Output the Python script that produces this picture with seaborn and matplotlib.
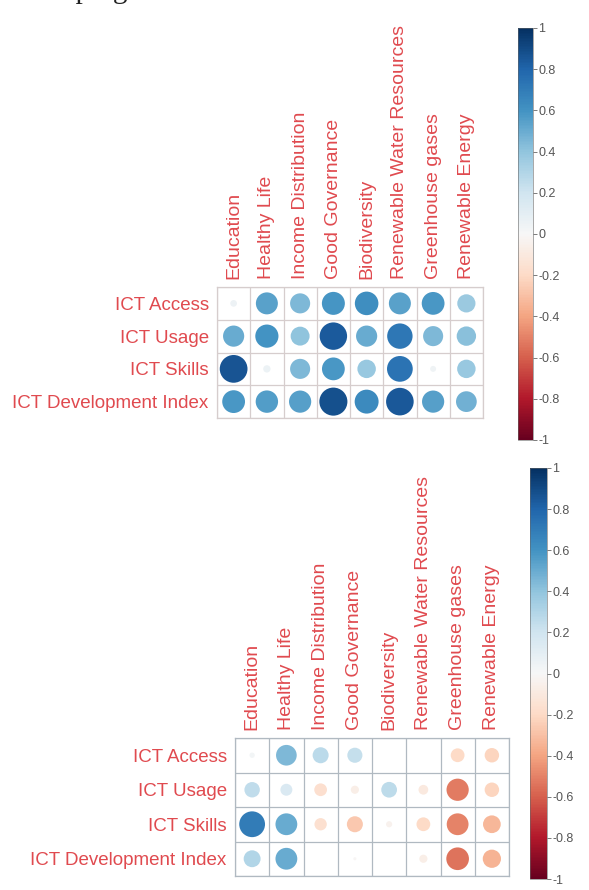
import numpy as np
import pandas as pd
import matplotlib

matplotlib.use("Agg")
import matplotlib.pyplot as plt
from matplotlib.colors import Normalize
from matplotlib.cm import ScalarMappable
import seaborn as sns

sns.set_theme(style="white")
plt.rcParams["font.family"] = ["Liberation Sans", "DejaVu Sans"]

rows = ["ICT Access", "ICT Usage", "ICT Skills", "ICT Development Index"]
cols = [
    "Education",
    "Healthy Life",
    "Income Distribution",
    "Good Governance",
    "Biodiversity",
    "Renewable Water Resources",
    "Greenhouse gases",
    "Renewable Energy",
]

# upper panel
top_access = [0.05, 0.54, 0.45, 0.59, 0.62, 0.54, 0.58, 0.37]
top_usage = [0.50, 0.60, 0.40, 0.84, 0.50, 0.72, 0.45, 0.42]
top_skills = [0.86, 0.06, 0.45, 0.58, 0.38, 0.74, 0.04, 0.38]
top_idi = [0.58, 0.56, 0.55, 0.88, 0.64, 0.85, 0.55, 0.48]

# lower panel
bot_access = [0.03, 0.45, 0.27, 0.24, 0.0, 0.0, -0.20, -0.22]
bot_usage = [0.25, 0.15, -0.17, -0.07, 0.26, -0.10, -0.52, -0.22]
bot_skills = [0.70, 0.50, -0.16, -0.27, -0.04, -0.20, -0.50, -0.33]
bot_idi = [0.30, 0.50, 0.0, -0.01, 0.0, -0.07, -0.54, -0.35]

red = "#e04a4f"
cbar_ticks = [1, 0.8, 0.6, 0.4, 0.2, 0, -0.2, -0.4, -0.6, -0.8, -1]
cbar_labels = ["1", "0.8", "0.6", "0.4", "0.2", "0", "-0.2", "-0.4", "-0.6", "-0.8", "-1"]

fig = plt.figure(figsize=(5.89, 8.90), dpi=100)


def corr_panel(ax, values, grid_color):
    df = pd.DataFrame(values, index=rows, columns=cols)
    df = df.reset_index().melt(id_vars="index", var_name="col", value_name="r")
    df = df.rename(columns={"index": "row"})
    df["size"] = df["r"].abs()
    cell_pt = ax.get_position().width * fig.get_figwidth() * 72 / len(cols)
    smax = (0.9 * cell_pt) ** 2
    sns.scatterplot(
        data=df, x="col", y="row", hue="r", size="size",
        palette="RdBu", hue_norm=(-1, 1), sizes=(0, smax), size_norm=(0, 1),
        linewidth=0, legend=False, ax=ax, zorder=3,
    )
    ax.set_xlim(-0.5, len(cols) - 0.5)
    ax.set_ylim(len(rows) - 0.5, -0.5)
    ax.set_xticks(range(len(cols)))
    ax.set_yticks(range(len(rows)))
    ax.set_xticks(np.arange(-0.5, len(cols), 1), minor=True)
    ax.set_yticks(np.arange(-0.5, len(rows), 1), minor=True)
    ax.grid(False)
    ax.grid(which="minor", color=grid_color, lw=0.9)
    ax.xaxis.tick_top()
    ax.set_xticklabels(cols, rotation=90, color=red, fontsize=14)
    ax.set_yticklabels(rows, color=red, fontsize=13.5)
    ax.tick_params(which="both", length=0)
    ax.tick_params(axis="x", pad=6)
    ax.tick_params(axis="y", pad=6)
    ax.set_xlabel("")
    ax.set_ylabel("")
    for s in ax.spines.values():
        s.set_color(grid_color)
        s.set_linewidth(0.9)


def corr_bar(cax):
    sm = ScalarMappable(norm=Normalize(-1, 1), cmap="RdBu")
    cb = fig.colorbar(sm, cax=cax, ticks=cbar_ticks)
    cb.ax.set_yticklabels(cbar_labels)
    cb.ax.tick_params(length=3, width=0.6, color="#666666", labelsize=9,
                      labelcolor="#555555", pad=1, direction="out")
    cb.outline.set_linewidth(0.4)
    cb.outline.set_edgecolor("#666666")


ax1 = fig.add_axes([217 / 589, 1 - 418 / 890, 266 / 589, 131 / 890])
corr_panel(ax1, [top_access, top_usage, top_skills, top_idi], "#d6cdcd")
cax1 = fig.add_axes([518 / 589, 1 - 440 / 890, 15 / 589, 412 / 890])
corr_bar(cax1)

ax2 = fig.add_axes([235 / 589, 1 - 876 / 890, 274 / 589, 138 / 890])
corr_panel(ax2, [bot_access, bot_usage, bot_skills, bot_idi], "#b0b9c1")
cax2 = fig.add_axes([530 / 589, 1 - 879 / 890, 17 / 589, 411 / 890])
corr_bar(cax2)

# line of body text cut off at the top of the page crop
fig.text(-0.003, 1 + 2 / 890, "developing economies.", family="Liberation Serif",
         fontsize=21, va="baseline", ha="left", color="#222222")

fig.savefig("out.png", dpi=100)
